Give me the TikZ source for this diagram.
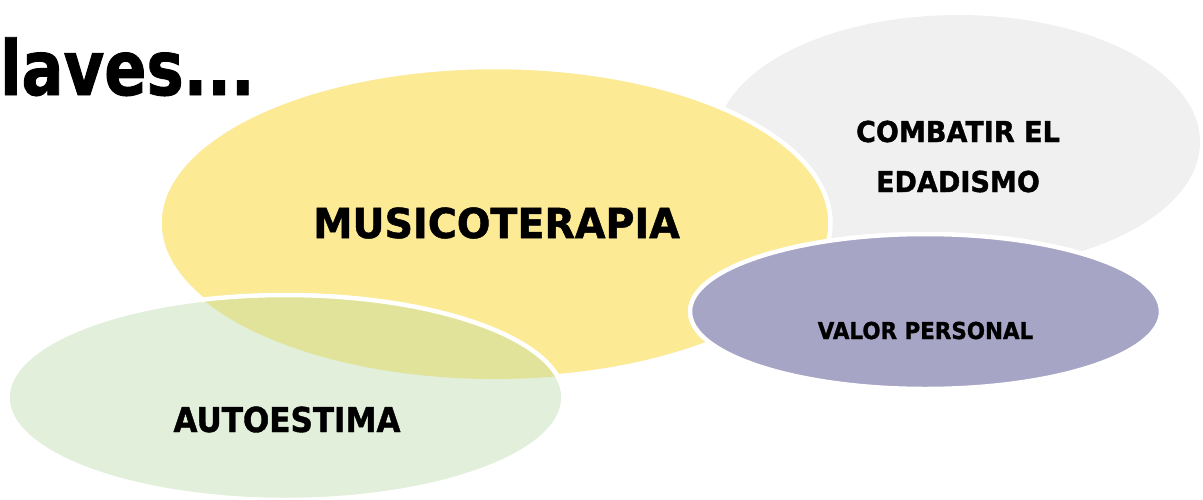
\documentclass[tikz,border=0pt]{standalone}
\usepackage{fontspec}
\setmainfont{DejaVu Sans}
\newfontfamily\ftitle{DejaVu Sans}[FakeStretch=0.82, BoldFeatures={FakeBold=1.2}]
\newfontfamily\fmus{DejaVu Sans}[FakeStretch=0.96, BoldFeatures={FakeBold=1.2}]
\newfontfamily\fcomb{DejaVu Sans}[FakeStretch=0.94, BoldFeatures={FakeBold=1.2}]
\newfontfamily\fval{DejaVu Sans}[FakeStretch=0.92, BoldFeatures={FakeBold=1.2}]
\newfontfamily\fauto{DejaVu Sans}[FakeStretch=0.905, BoldFeatures={FakeBold=1.2}]
\definecolor{grayE}{HTML}{F0F0F0}
\definecolor{yel}{HTML}{FCEA94}
\definecolor{grn}{HTML}{E2EFDA}
\definecolor{olv}{HTML}{E1E39A}
\definecolor{pur}{HTML}{A7A5C6}
\begin{document}
\begin{tikzpicture}[x=1pt,y=-1pt,
  rim/.style={draw=white, line width=4.5pt},
  lbl/.style={inner sep=0pt, anchor=base, text=black}]
\useasboundingbox (0,0) rectangle (1203,499);
% gray ellipse
\fill[grayE] (958,142) ellipse [x radius=242, y radius=127];
% yellow ellipse
\filldraw[rim, fill=yel] (495,223) ellipse [x radius=335.5, y radius=156];
% green ellipse
\fill[grn] (285.5,397.5) ellipse [x radius=278, y radius=102.5];
\begin{scope}
  \clip (495,223) ellipse [x radius=335.5, y radius=156];
  \fill[olv] (285.5,397.5) ellipse [x radius=278, y radius=102.5];
\end{scope}
\draw[rim] (285.5,397.5) ellipse [x radius=278, y radius=102.5];
% purple ellipse
\filldraw[rim, fill=pur] (925.5,311.5) ellipse [x radius=235.5, y radius=77.5];
% texts
\node[lbl, anchor=base west, font=\ftitle\bfseries\fontsize{76}{80}\selectfont] (title) at (0,95) {laves...};
\node[lbl, font=\fmus\bfseries\fontsize{41.2}{48}\selectfont] (musico) at (496.5,238) {MUSICOTERAPIA};
\node[lbl, font=\fcomb\bfseries\fontsize{28.8}{50}\selectfont, align=center] (combatir) at (958,192) {COMBATIR EL\\EDADISMO};
\node[lbl, font=\fval\bfseries\fontsize{23.3}{28}\selectfont] (valor) at (925.5,339) {VALOR PERSONAL};
\node[lbl, font=\fauto\bfseries\fontsize{34.3}{40}\selectfont] (auto) at (287,432) {AUTOESTIMA};
\end{tikzpicture}
\end{document}
